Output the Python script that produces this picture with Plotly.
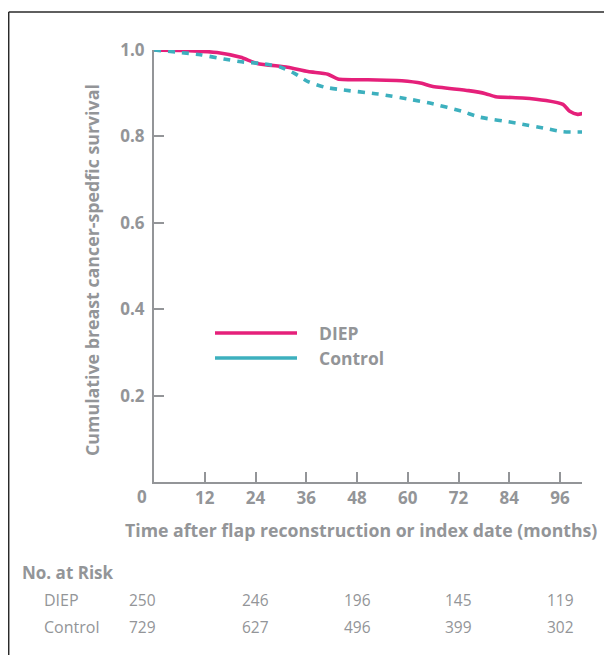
import plotly.graph_objects as go

# ---- data ----
diep_months = [0, 9.4, 14.9, 20.5, 24.4, 31.6, 36.4, 41.1, 43.5, 50.6, 58.6, 63.3, 65.7, 74.4, 78.4, 80.8, 87.1, 92.7, 96.7, 98.3, 100.2, 101.8]
diep_surv = [1.0, 0.998, 0.994, 0.983, 0.969, 0.960, 0.950, 0.944, 0.933, 0.931, 0.929, 0.923, 0.916, 0.906, 0.899, 0.892, 0.889, 0.883, 0.874, 0.858, 0.851, 0.854]

control_months = [0, 5.4, 11, 16.5, 21.3, 25.2, 30, 33.2, 36.4, 40.3, 44.3, 53, 61, 65.7, 72.9, 76.8, 85.6, 92.7, 96.7, 101.8]
control_surv = [1.0, 0.995, 0.989, 0.979, 0.972, 0.969, 0.960, 0.946, 0.927, 0.914, 0.908, 0.898, 0.885, 0.876, 0.858, 0.845, 0.831, 0.818, 0.811, 0.810]

x_ticks = [12, 24, 36, 48, 60, 72, 84, 96]
y_ticks = [0.2, 0.4, 0.6, 0.8, 1.0]
y_tick_labels = ["0.2", "0.4", "0.6", "0.8", "1.0"]

risk_months = [0, 24, 48, 72, 96]
risk_diep = [250, 246, 196, 145, 119]
risk_control = [729, 627, 496, 399, 302]

# ---- style ----
PINK = "#e5207a"
TEAL = "#3db0be"
GRAY = "#939598"
FONT = "Open Sans"

OFF = 8  # page body margin
W, H = 604, 647
L, R, T, B = 146, 30, 42, 173
PW, PH = W - L - R, H - T - B


def xp(px):
    return (px - OFF - L) / PW


def yp(py):
    return (H - B - (py - OFF)) / PH


fig = go.Figure()
fig.add_trace(go.Scatter(x=diep_months, y=diep_surv, mode="lines", name="DIEP",
                         line=dict(color=PINK, width=3.6, shape="spline", smoothing=0.6),
                         showlegend=False))
fig.add_trace(go.Scatter(x=control_months, y=control_surv, mode="lines", name="Control",
                         line=dict(color=TEAL, width=3.6, dash="7px,7px", shape="spline", smoothing=0.6),
                         showlegend=False))

fig.update_layout(
    width=W, height=H,
    margin=dict(l=L, r=R, t=T, b=B),
    paper_bgcolor="white", plot_bgcolor="white",
    font=dict(family=FONT, color=GRAY),
    xaxis=dict(range=[0, 101.2], tickvals=x_ticks, ticks="inside", ticklen=10, tickwidth=2,
               tickcolor=GRAY, showline=True, linecolor=GRAY, linewidth=2, showgrid=False,
               zeroline=False, tickfont=dict(size=17, family=FONT, color=GRAY, weight="bold"),
               ticklabelstandoff=0),
    yaxis=dict(range=[0, 1.0], tickvals=y_ticks, ticktext=y_tick_labels, ticks="inside", ticklen=10,
               tickwidth=2, tickcolor=GRAY, showline=True, linecolor=GRAY, linewidth=2,
               showgrid=False, zeroline=False,
               tickfont=dict(size=17, family=FONT, color=GRAY, weight="bold"), ticklabelstandoff=4),
)

# axis titles
fig.add_annotation(x=xp(361), y=yp(530), xref="paper", yref="paper",
                   text="Time after flap reconstruction or index date (months)", showarrow=False,
                   xanchor="center", yanchor="middle",
                   font=dict(size=17.7, family=FONT, color=GRAY, weight="bold"))
fig.add_annotation(x=xp(92), y=yp(270), xref="paper", yref="paper",
                   text="Cumulative breast cancer-spedfic survival", showarrow=False, textangle=-90,
                   xanchor="center", yanchor="middle",
                   font=dict(size=17.8, family=FONT, color=GRAY, weight="bold"))

# origin label "0"
fig.add_annotation(x=0, y=yp(496), xref="x", yref="paper", text="0", showarrow=False,
                   xshift=-12, font=dict(size=17, family=FONT, color=GRAY, weight="bold"),
                   xanchor="center", yanchor="middle")

# legend drawn manually
for yy, col, lab in [(333, PINK, "DIEP"), (358, TEAL, "Control")]:
    fig.add_shape(type="line", xref="paper", yref="paper", x0=xp(215), x1=xp(297), y0=yp(yy), y1=yp(yy),
                  line=dict(color=col, width=3.6))
    fig.add_annotation(x=xp(317), y=yp(yy), xref="paper", yref="paper", text=lab, showarrow=False,
                       xanchor="left", yanchor="middle",
                       font=dict(size=17.5, family=FONT, color=GRAY, weight="bold"))

# number at risk table
fig.add_annotation(x=xp(20), y=yp(572), xref="paper", yref="paper", text="No. at Risk", showarrow=False,
                   xanchor="left", yanchor="middle", font=dict(size=17, family=FONT, color=GRAY, weight="bold"))
for yy, lab, vals in [(600, "DIEP", risk_diep), (627, "Control", risk_control)]:
    fig.add_annotation(x=xp(42), y=yp(yy), xref="paper", yref="paper", text=lab, showarrow=False,
                       xanchor="left", yanchor="middle", font=dict(size=16, family=FONT, color=GRAY))
    for m, v in zip(risk_months, vals):
        fig.add_annotation(x=m, y=yp(yy), xref="x", yref="paper", text=str(v), showarrow=False,
                           xshift=-12 if m == 0 else 0, xanchor="center", yanchor="middle",
                           font=dict(size=15.5, family=FONT, color=GRAY))

# outer frame (top and left edges)
fig.add_shape(type="line", xref="paper", yref="paper", x0=xp(8.7), x1=xp(613), y0=yp(12), y1=yp(12),
              line=dict(color="#2a2a2a", width=1.5))
fig.add_shape(type="line", xref="paper", yref="paper", x0=xp(8.7), x1=xp(8.7), y0=yp(12), y1=yp(656),
              line=dict(color="#2a2a2a", width=1.5))

fig.write_html("out.html")
